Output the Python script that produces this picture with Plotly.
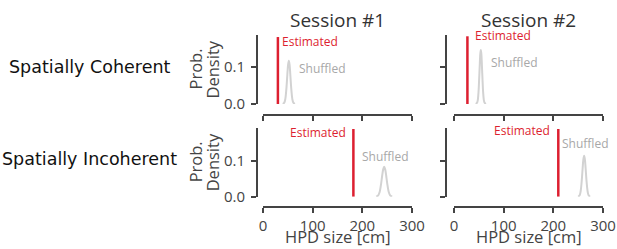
import plotly.graph_objects as go

W, H = 617, 249

sessions = ["Session #1", "Session #2"]
conditions = ["Spatially Coherent", "Spatially Incoherent"]
x_ticks = [0, 100, 200, 300]
x_tick_labels = ["0", "100", "200", "300"]
y_ticks = [0.0, 0.1]
y_tick_labels = ["0.0", "0.1"]

# estimated HPD size per (condition, session)
estimated = [[30, 27], [182, 210]]
estimated_top = [[0.181, 0.183], [0.188, 0.188]]

# shuffled distributions
shuffled_x = [
    [[40, 43, 45, 47, 49, 50.5, 52, 53.5, 55, 57, 59, 61, 64],
     [44, 47, 49, 50.5, 52, 53, 54, 55, 56, 57.5, 59, 61, 64]],
    [[228, 232, 235, 238, 240, 242, 244, 246, 248, 250, 253, 256, 260],
     [250, 253, 255, 257, 259, 260.5, 262, 263.5, 265, 267, 269, 271, 274]],
]
shuffled_y = [
    [[0.000, 0.004, 0.014, 0.040, 0.079, 0.106, 0.117, 0.106, 0.079, 0.040, 0.014, 0.004, 0.000],
     [0.000, 0.005, 0.026, 0.063, 0.111, 0.136, 0.146, 0.136, 0.111, 0.063, 0.026, 0.005, 0.000]],
    [[0.000, 0.004, 0.014, 0.038, 0.059, 0.076, 0.083, 0.076, 0.059, 0.038, 0.014, 0.004, 0.000],
     [0.000, 0.004, 0.015, 0.041, 0.079, 0.104, 0.114, 0.104, 0.079, 0.041, 0.015, 0.004, 0.000]],
]

# label positions in data coords: (x, y, anchor)
est_label = [[(35, 0.168, "left"), (38, 0.184, "left")],
             [(171, 0.178, "right"), (197, 0.185, "right")]]
shuf_label = [[(68, 0.097), (70, 0.111)],
              [(195, 0.113), (213, 0.149)]]

RED = "#dd1f30"
GRAY_LINE = "#d2d2d2"
GRAY_TEXT = "#a8a8a8"
AX = "#444444"
TICKFONT = dict(family="Open Sans", size=15, color="#444444")


def px_x(p):
    return p / W


def px_y(p):
    return 1 - p / H


x_dom = [(263, 412), (454, 603)]
y_axis_pos = [257, 446]
row_ydom = [(104, 35), (196.7, 128)]
row_xline = [115, 207]
row_yrange = [0.1865, 0.191]

fig = go.Figure()
layout = {}
annotations = []
k = 0
for r in range(2):
    for c in range(2):
        k += 1
        xa = "x" if k == 1 else f"x{k}"
        ya = "y" if k == 1 else f"y{k}"
        xname = "xaxis" if k == 1 else f"xaxis{k}"
        yname = "yaxis" if k == 1 else f"yaxis{k}"
        fig.add_trace(go.Scatter(
            x=shuffled_x[r][c], y=shuffled_y[r][c], mode="lines",
            line=dict(color=GRAY_LINE, width=2, shape="spline"),
            xaxis=xa, yaxis=ya, showlegend=False, hoverinfo="skip"))
        fig.add_trace(go.Scatter(
            x=[estimated[r][c], estimated[r][c]], y=[0, estimated_top[r][c]],
            mode="lines", line=dict(color=RED, width=2.5),
            xaxis=xa, yaxis=ya, showlegend=False, hoverinfo="skip"))
        layout[xname] = dict(
            domain=[px_x(x_dom[c][0]), px_x(x_dom[c][1])],
            range=[0, 300], anchor="free", position=px_y(row_xline[r]),
            automargin=False,
            showline=True, linecolor=AX, linewidth=2, showgrid=False,
            zeroline=False, ticks="outside", ticklen=5, tickwidth=1.5,
            tickcolor=AX, tickvals=x_ticks,
            ticktext=x_tick_labels if r == 1 else [""] * 4,
            showticklabels=(r == 1), tickfont=TICKFONT)
        layout[yname] = dict(
            domain=[px_y(row_ydom[r][0]), px_y(row_ydom[r][1])],
            range=[0, row_yrange[r]], anchor="free", position=px_x(y_axis_pos[c]),
            automargin=False,
            showline=True, linecolor=AX, linewidth=2, showgrid=False,
            zeroline=False, ticks="outside", ticklen=5, tickwidth=1.5,
            tickcolor=AX, tickvals=y_ticks, ticktext=y_tick_labels,
            ticklabelstandoff=3,
            showticklabels=(c == 0), tickfont=TICKFONT)
        ex, ey, eanc = est_label[r][c]
        annotations.append(dict(
            x=ex, y=ey, xref=xa, yref=ya, text="Estimated", showarrow=False,
            xanchor=eanc, yanchor="middle",
            font=dict(family="Open Sans", size=12, color=RED)))
        sx, sy = shuf_label[r][c]
        annotations.append(dict(
            x=sx, y=sy, xref=xa, yref=ya, text="Shuffled", showarrow=False,
            xanchor="left", yanchor="middle",
            font=dict(family="Open Sans", size=12, color=GRAY_TEXT)))

# column titles and x titles
for c, s in enumerate(sessions):
    annotations.append(dict(
        x=px_x((x_dom[c][0] + x_dom[c][1]) / 2), y=px_y(20), xref="paper", yref="paper",
        text=s, showarrow=False, xanchor="center", yanchor="middle",
        font=dict(family="Open Sans", size=19, color="#333333")))
    annotations.append(dict(
        x=px_x((x_dom[c][0] + x_dom[c][1]) / 2), y=px_y(236.5), xref="paper", yref="paper",
        text="HPD size [cm]", showarrow=False, xanchor="center", yanchor="middle",
        font=dict(family="Open Sans", size=16.5, color="#444444")))

# row labels and y titles
row_label_y = [66.7, 159]
for r, lab in enumerate(conditions):
    annotations.append(dict(
        x=px_x(89), y=px_y(row_label_y[r]), xref="paper", yref="paper",
        text=lab, showarrow=False, xanchor="center", yanchor="middle",
        font=dict(family="DejaVu Sans", size=17.5, color="#111111")))
    yc = (row_ydom[r][0] + row_ydom[r][1]) / 2
    annotations.append(dict(
        x=px_x(195), y=px_y(yc), xref="paper", yref="paper", text="Prob.",
        showarrow=False, textangle=-90, xanchor="center", yanchor="middle",
        font=dict(family="Open Sans", size=16.5, color="#444444")))
    annotations.append(dict(
        x=px_x(212), y=px_y(yc), xref="paper", yref="paper", text="Density",
        showarrow=False, textangle=-90, xanchor="center", yanchor="middle",
        font=dict(family="Open Sans", size=16.5, color="#444444")))

fig.update_layout(
    width=W, height=H, margin=dict(l=0, r=0, t=0, b=0, autoexpand=False),
    autosize=False, showlegend=False,
    paper_bgcolor="white", plot_bgcolor="white",
    annotations=annotations, **layout)

fig.write_html(
    "out.html",
    config={"displayModeBar": False, "responsive": False},
    post_script=("document.body.style.margin='0';document.body.style.padding='0';"
                 "document.documentElement.style.overflow='hidden';"))
